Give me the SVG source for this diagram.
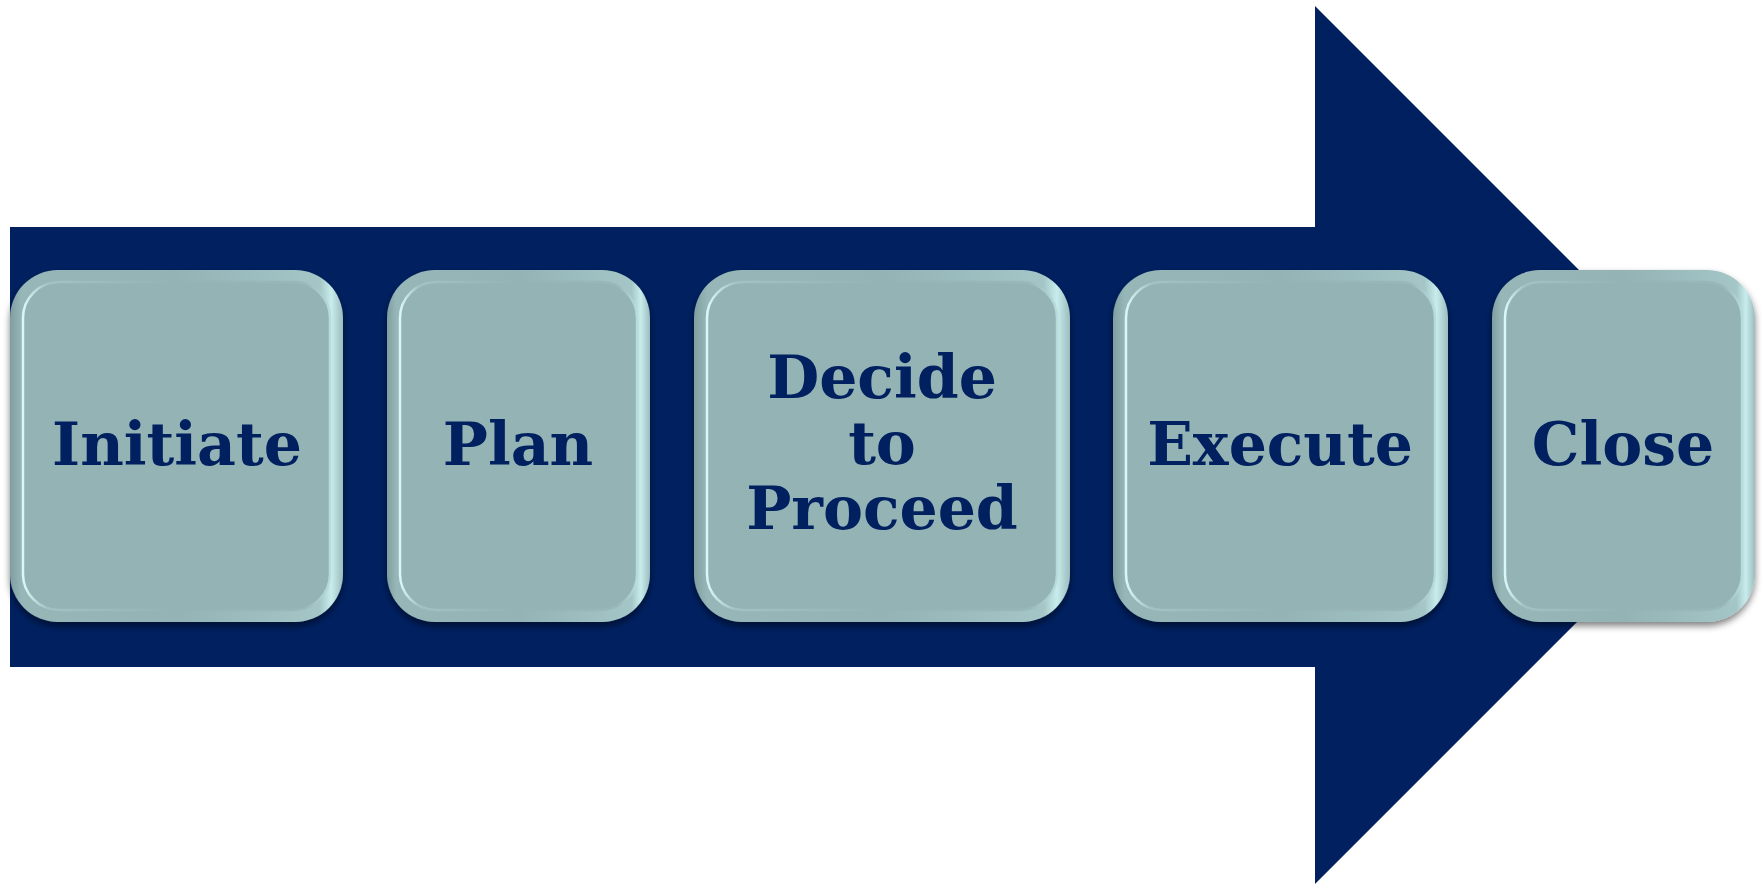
<svg xmlns="http://www.w3.org/2000/svg" width="1762" height="885" viewBox="0 0 1762 885">
  <style>
    .lbl { font-family: "DejaVu Serif", Georgia, "Liberation Serif", serif; font-weight: bold; font-size: 60px; fill: #002060; text-anchor: middle; }
    .outer { fill: url(#bevelH); filter: url(#shadow); }
    .inner { fill: #93B3B5; stroke: url(#innerEdge); stroke-width: 2.5; }
  </style>
  <defs>
    <linearGradient id="bevelH" x1="0" y1="0" x2="1" y2="0">
      <stop offset="0" stop-color="#809EA0"/>
      <stop offset="0.035" stop-color="#96B6B8"/>
      <stop offset="0.5" stop-color="#93B3B5"/>
      <stop offset="0.93" stop-color="#A4C6C7"/>
      <stop offset="0.965" stop-color="#C8ECEC"/>
      <stop offset="1" stop-color="#9CBCBE"/>
    </linearGradient>
    <linearGradient id="innerEdge" x1="0" y1="0" x2="1" y2="0">
      <stop offset="0" stop-color="#DCF7F7"/>
      <stop offset="0.08" stop-color="#A2C2C3"/>
      <stop offset="0.5" stop-color="#93B3B5"/>
      <stop offset="0.92" stop-color="#98B8BA"/>
      <stop offset="1" stop-color="#B8DBDB"/>
    </linearGradient>
    <filter id="shadow" x="-10%" y="-10%" width="120%" height="125%">
      <feGaussianBlur in="SourceAlpha" stdDeviation="3.5"/>
      <feOffset dx="0" dy="4" result="b"/>
      <feComponentTransfer><feFuncA type="linear" slope="0.5"/></feComponentTransfer>
      <feMerge><feMergeNode/><feMergeNode in="SourceGraphic"/></feMerge>
    </filter>
  </defs>
  <rect width="1762" height="885" fill="#FFFFFF"/>
  <g id="arrow">
    <polygon points="10,227 1315,227 1315,6 1754,445 1315,884 1315,667 10,667" fill="#002060"/>
  </g>
  <g id="node-initiate">
    <rect class="outer" x="10" y="270" width="333" height="352" rx="48"/>
    <rect class="inner" x="23" y="282" width="307" height="328" rx="36"/>
    <text class="lbl" x="177" y="465">Initiate</text>
  </g>
  <g id="node-plan">
    <rect class="outer" x="387" y="270" width="263" height="352" rx="48"/>
    <rect class="inner" x="400" y="282" width="237" height="328" rx="36"/>
    <text class="lbl" x="518" y="465">Plan</text>
  </g>
  <g id="node-decide">
    <rect class="outer" x="694" y="270" width="376" height="352" rx="48"/>
    <rect class="inner" x="707" y="282" width="350" height="328" rx="36"/>
    <text class="lbl" x="882" y="398">Decide</text>
    <text class="lbl" x="882" y="464">to</text>
    <text class="lbl" x="882" y="529">Proceed</text>
  </g>
  <g id="node-execute">
    <rect class="outer" x="1113" y="270" width="335" height="352" rx="48"/>
    <rect class="inner" x="1126" y="282" width="309" height="328" rx="36"/>
    <text class="lbl" x="1280" y="465">Execute</text>
  </g>
  <g id="node-close">
    <rect class="outer" x="1492" y="270" width="263" height="352" rx="48"/>
    <rect class="inner" x="1505" y="282" width="237" height="328" rx="36"/>
    <text class="lbl" x="1623" y="465">Close</text>
  </g>
  <g id="connectors"></g>
</svg>
